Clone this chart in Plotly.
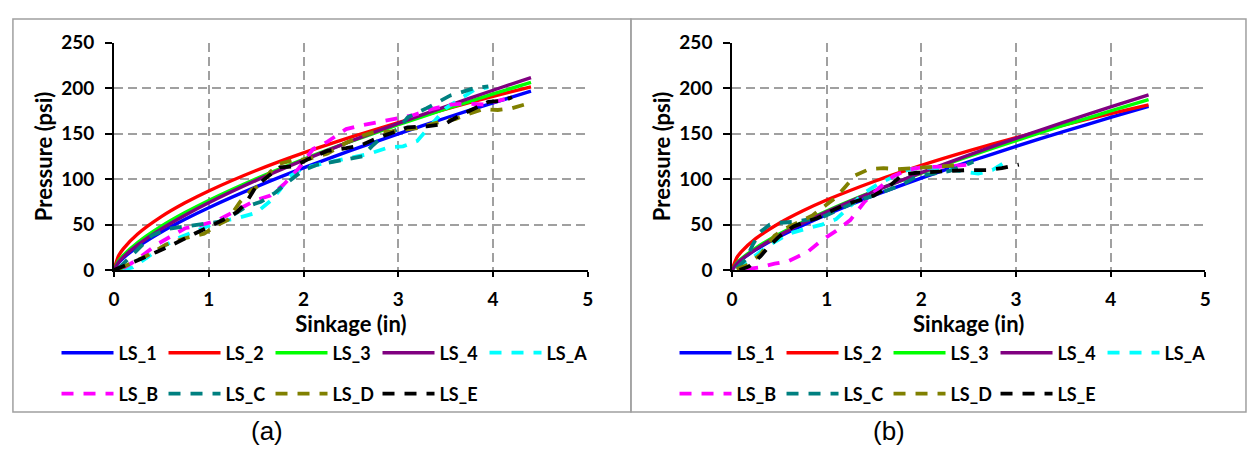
import plotly.graph_objects as go

# ---------------- data ----------------
# fitted (solid) curves, panel (a)
xs_fit = [0, 0.05, 0.1, 0.25, 0.5, 0.75, 1, 1.5, 2, 2.5, 3, 3.5, 4, 4.4]
a_ls1 = [0, 8.2, 13.4, 25.6, 41.9, 55.9, 68.6, 91.5, 112.3, 131.6, 149.8, 167.2, 183.9, 196.7]
a_ls2 = [0, 15.9, 23.6, 39.6, 58.7, 73.9, 87.0, 109.5, 128.9, 146.2, 162.2, 177.0, 191.0, 201.5]
a_ls3 = [0, 10.3, 16.4, 30.3, 48.2, 63.2, 76.6, 100.4, 121.8, 141.4, 159.8, 177.1, 193.6, 206.4]
a_ls4 = [0, 8.8, 14.5, 27.7, 45.3, 60.3, 74.0, 98.6, 120.9, 141.7, 161.3, 179.8, 197.7, 211.7]

# fitted (solid) curves, panel (b)
b_ls1 = [0, 6.8, 11.4, 22.2, 36.8, 49.4, 61.0, 82.0, 101.2, 119.1, 136.0, 152.2, 167.8, 180.0]
b_ls2 = [0, 13.5, 20.2, 34.5, 51.5, 65.2, 77.0, 97.4, 115.1, 131.0, 145.6, 159.3, 172.0, 181.7]
b_ls3 = [0, 7.7, 12.6, 24.2, 39.6, 52.9, 65.0, 86.8, 106.6, 125.0, 142.4, 159.0, 174.9, 187.3]
b_ls4 = [0, 6.9, 11.6, 22.8, 38.2, 51.7, 64.0, 86.5, 107.1, 126.4, 144.8, 162.4, 179.3, 192.6]

# measured (dashed) curves, panel (a)
a_lsA_x = [0.08, 0.2, 0.35, 0.5, 0.7, 0.9, 1.1, 1.3, 1.5, 1.65, 1.75, 1.85, 2.0, 2.2, 2.45, 2.7, 2.9, 3.05, 3.2, 3.35, 3.5, 3.65, 3.8, 3.95]
a_lsA_y = [0, 3, 14, 25, 36, 45, 53, 57, 63, 76, 88, 103, 112, 117, 122, 128, 135, 136, 142, 160, 178, 188, 198, 201]
a_lsB_x = [0.1, 0.25, 0.45, 0.75, 0.9, 1.1, 1.3, 1.5, 1.65, 1.8, 1.95, 2.1, 2.25, 2.45, 2.6, 2.8, 3.0, 3.15, 3.35, 3.55, 3.7, 3.9, 4.05, 4.2]
a_lsB_y = [2, 12, 28, 46, 49, 55, 66, 77, 82, 95, 112, 133, 141, 155, 159, 163, 167, 170, 177, 182, 183, 182, 186, 190]
a_lsC_x = [0.05, 0.15, 0.25, 0.4, 0.55, 0.75, 0.95, 1.1, 1.25, 1.4, 1.55, 1.7, 1.85, 2.0, 2.15, 2.35, 2.5, 2.62, 2.72, 2.85, 3.0, 3.1, 3.3, 3.4, 3.55, 3.65, 3.8, 3.95]
a_lsC_y = [2, 12, 22, 38, 45, 48, 51, 53, 60, 70, 75, 85, 98, 110, 116, 120, 122, 125, 136, 148, 155, 168, 178, 184, 192, 195, 200, 202]
a_lsD_x = [0.05, 0.2, 0.35, 0.55, 0.75, 0.95, 1.1, 1.2, 1.33, 1.45, 1.55, 1.65, 1.75, 1.9, 2.05, 2.25, 2.45, 2.6, 2.75, 2.9, 3.05, 3.2, 3.4, 3.6, 3.75, 3.9, 4.05, 4.2, 4.4]
a_lsD_y = [1, 8, 16, 28, 35, 40, 50, 55, 75, 88, 94, 108, 117, 121, 122, 128, 140, 147, 152, 152, 154, 156, 162, 166, 172, 177, 176, 178, 184]
a_lsE_x = [0.0, 0.1, 0.3, 0.45, 0.6, 0.85, 1.0, 1.15, 1.3, 1.4, 1.5, 1.6, 1.75, 1.9, 2.05, 2.25, 2.45, 2.6, 2.8, 2.95, 3.1, 3.3, 3.5, 3.65, 3.8, 3.95, 4.1, 4.2]
a_lsE_y = [0, 4, 13, 20, 27, 40, 47, 55, 64, 75, 92, 101, 113, 114, 122, 131, 134, 137, 146, 152, 157, 158, 161, 170, 178, 185, 186, 190]

# measured (dashed) curves, panel (b)
b_lsA_x = [0.05, 0.2, 0.4, 0.6, 0.8, 0.95, 1.1, 1.25, 1.4, 1.55, 1.7, 1.85, 2.0, 2.2, 2.4, 2.6, 2.75, 2.86]
b_lsA_y = [1, 12, 28, 40, 46, 50, 56, 70, 85, 95, 103, 110, 113, 112, 109, 106, 110, 117]
b_lsB_x = [0.15, 0.3, 0.45, 0.6, 0.8, 0.95, 1.1, 1.25, 1.4, 1.55, 1.7, 1.85, 2.0, 2.15, 2.3, 2.5]
b_lsB_y = [1, 3, 7, 10, 20, 33, 43, 55, 75, 90, 103, 110, 113, 113, 114, 116]
b_lsC_x = [0.05, 0.15, 0.22, 0.3, 0.4, 0.5, 0.65, 0.8, 0.95, 1.1, 1.2, 1.35, 1.5, 1.65, 1.8, 1.95, 2.1, 2.3, 2.5, 2.55]
b_lsC_y = [2, 12, 28, 42, 50, 52, 53, 55, 58, 65, 70, 77, 82, 88, 94, 103, 106, 109, 117, 119]
b_lsD_x = [0.05, 0.15, 0.3, 0.45, 0.55, 0.7, 0.85, 1.0, 1.1, 1.2, 1.3, 1.45, 1.6, 1.75, 1.9, 2.05, 2.2, 2.35]
b_lsD_y = [1, 5, 17, 38, 45, 53, 60, 72, 80, 92, 104, 111, 112, 111, 112, 112, 114, 115]
b_lsE_x = [0.08, 0.18, 0.3, 0.4, 0.5, 0.65, 0.8, 0.9, 1.05, 1.2, 1.35, 1.5, 1.65, 1.8, 1.95, 2.1, 2.3, 2.5, 2.7, 2.85, 3.03]
b_lsE_y = [0, 4, 15, 27, 37, 48, 54, 57, 65, 72, 77, 82, 91, 105, 107, 108, 109, 110, 110, 112, 116]

x_ticks = [0, 1, 2, 3, 4, 5]
y_ticks = [0, 50, 100, 150, 200, 250]
panel_labels = ["(a)", "(b)"]
x_title = "Sinkage (in)"
y_title = "Pressure (psi)"

solid_names = ["LS_1", "LS_2", "LS_3", "LS_4"]
solid_colors = ["#0000FF", "#FF0000", "#00FF00", "#800080"]
dash_names = ["LS_A", "LS_B", "LS_C", "LS_D", "LS_E"]
dash_colors = ["#00FFFF", "#FF00FF", "#008080", "#808000", "#000000"]

W, H = 1250, 459
FONT = "Lato"
DASH = "12px,10px"

fig = go.Figure()

panels = [
    dict(xa="x", ya="y", solids=[a_ls1, a_ls2, a_ls3, a_ls4],
         dashed=[(a_lsA_x, a_lsA_y), (a_lsB_x, a_lsB_y), (a_lsC_x, a_lsC_y), (a_lsD_x, a_lsD_y), (a_lsE_x, a_lsE_y)],
         legs=("legend", "legend2")),
    dict(xa="x2", ya="y2", solids=[b_ls1, b_ls2, b_ls3, b_ls4],
         dashed=[(b_lsA_x, b_lsA_y), (b_lsB_x, b_lsB_y), (b_lsC_x, b_lsC_y), (b_lsD_x, b_lsD_y), (b_lsE_x, b_lsE_y)],
         legs=("legend3", "legend4")),
]

for p in panels:
    for name, col, ys in zip(solid_names, solid_colors, p["solids"]):
        fig.add_trace(go.Scatter(x=xs_fit, y=ys, mode="lines", name=name,
                                 line=dict(color=col, width=3.4, shape="spline", smoothing=0.6),
                                 xaxis=p["xa"], yaxis=p["ya"], legend=p["legs"][0]))
    for i, (name, col, (xx, yy)) in enumerate(zip(dash_names, dash_colors, p["dashed"])):
        fig.add_trace(go.Scatter(x=xx, y=yy, mode="lines", name=name,
                                 line=dict(color=col, width=3.8, dash=DASH),
                                 xaxis=p["xa"], yaxis=p["ya"],
                                 legend=p["legs"][0] if i == 0 else p["legs"][1]))

def px_x(v):
    return v / W

def px_y(v):
    return 1 - v / H

tick_font = dict(family=FONT, size=19, color="black", weight="bold")
title_font = dict(family=FONT, size=22, color="black", weight="bold")
axis_common = dict(
    showline=True, linecolor="black", linewidth=1.5,
    ticks="outside", tickcolor="black", tickwidth=1.5,
    showgrid=True, gridcolor="#A0A0A0", gridwidth=1.5, griddash="9px,5px",
    zeroline=False, tickfont=tick_font,
)

plot_top, plot_bot = 32.3, 271.7
xcommon = dict(range=[0, 5], tickvals=x_ticks, ticklen=5, ticklabelstandoff=6,
               title=dict(text=x_title, font=title_font, standoff=6), **axis_common)
ycommon = dict(domain=[px_y(plot_bot), px_y(plot_top)], range=[0, 250], tickvals=y_ticks, ticklen=7,
               ticklabelstandoff=7, title=dict(text=y_title, font=title_font, standoff=3), **axis_common)
fig.update_layout(
    xaxis=dict(domain=[px_x(109), px_x(587.5)], anchor="y", **xcommon),
    yaxis=dict(anchor="x", **ycommon),
    xaxis2=dict(domain=[px_x(733), px_x(1211)], anchor="y2", **xcommon),
    yaxis2=dict(anchor="x2", **ycommon),
)

leg_common = dict(orientation="h", xanchor="left", yanchor="middle", bgcolor="rgba(0,0,0,0)",
                  font=dict(family=FONT, size=18, color="black", weight="bold"),
                  entrywidth=40, entrywidthmode="pixels", itemwidth=52, tracegroupgap=0)
fig.update_layout(
    legend=dict(x=px_x(51), y=px_y(359), **leg_common),
    legend2=dict(x=px_x(51), y=px_y(402), **leg_common),
    legend3=dict(x=px_x(675), y=px_y(359), **leg_common),
    legend4=dict(x=px_x(675), y=px_y(402), **leg_common),
)

fig.add_shape(type="rect", xref="paper", yref="paper", x0=px_x(7), x1=px_x(631), y0=px_y(421), y1=px_y(7.5),
              line=dict(color="#A0A0A0", width=1.5), layer="below")
fig.add_shape(type="rect", xref="paper", yref="paper", x0=px_x(631), x1=px_x(1252), y0=px_y(421), y1=px_y(7.5),
              line=dict(color="#A0A0A0", width=1.5), layer="below")

for lab, cx in zip(panel_labels, [264, 892]):
    fig.add_annotation(text=lab, xref="paper", yref="paper", x=px_x(cx), y=px_y(441),
                       xanchor="center", yanchor="middle", showarrow=False,
                       font=dict(family="Liberation Sans", size=26, color="black"))

fig.update_layout(width=W, height=H, margin=dict(l=0, r=0, t=0, b=0),
                  paper_bgcolor="white", plot_bgcolor="white", showlegend=True)

fig.write_html("out.html")
